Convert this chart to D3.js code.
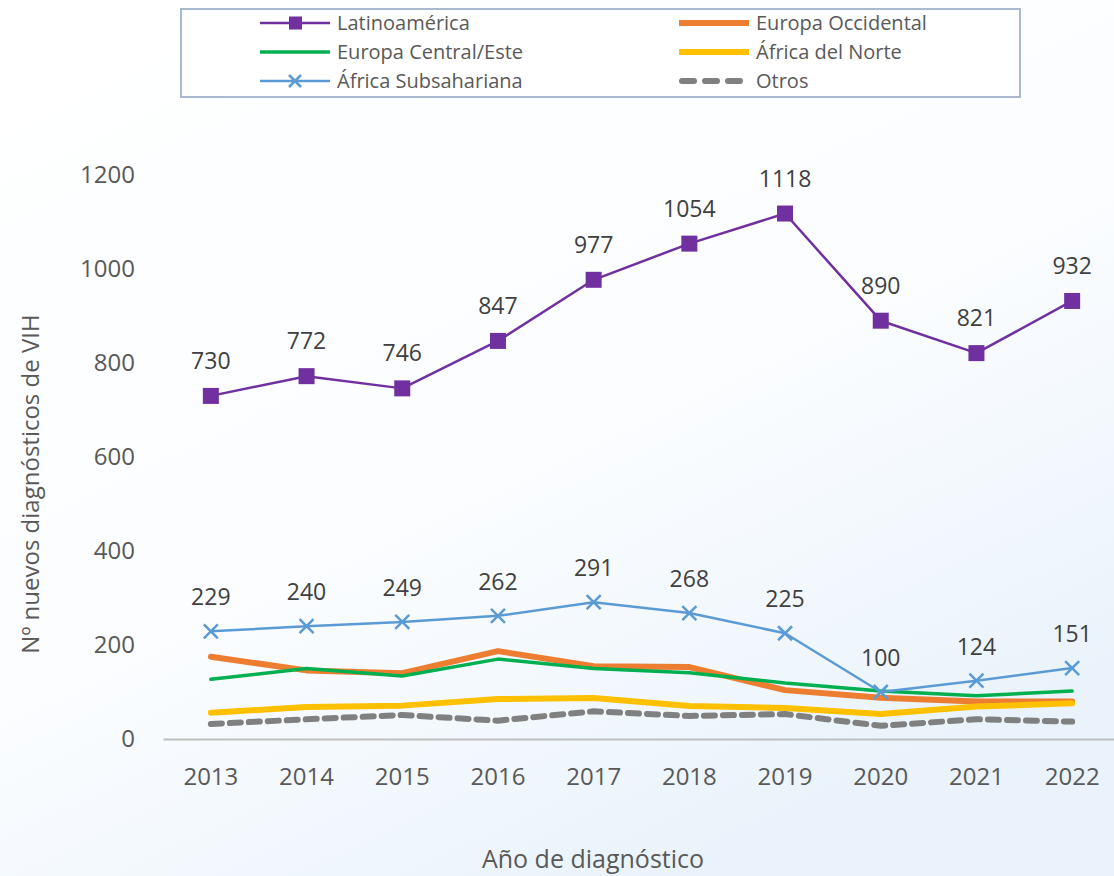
<!DOCTYPE html>
<html>
<head>
<meta charset="utf-8">
<script src="https://cdn.jsdelivr.net/npm/d3@7"></script>
<style>
  html, body { margin: 0; padding: 0; }
  body { width: 1114px; height: 876px; overflow: hidden; font-family: "Open Sans", sans-serif; }
</style>
</head>
<body>
<div id="chart"></div>
<script>
// Data
const years = ["2013", "2014", "2015", "2016", "2017", "2018", "2019", "2020", "2021", "2022"];
const latinoamerica = [730, 772, 746, 847, 977, 1054, 1118, 890, 821, 932];
const europaOccidental = [175, 146, 140, 187, 155, 153, 104, 88, 80, 80];
const europaCentral = [127, 150, 134, 170, 150, 141, 119, 102, 92, 102];
const africaNorte = [56, 68, 71, 85, 87, 70, 66, 53, 69, 76];
const africaSub = [229, 240, 249, 262, 291, 268, 225, 100, 124, 151];
const otros = [32, 42, 51, 39, 59, 49, 53, 28, 42, 37];
const yTicks = [0, 200, 400, 600, 800, 1000, 1200];

const series = [
    { name: "Europa Occidental", values: europaOccidental, color: "#ed7d31", width: 6 },
    { name: "Europa Central/Este", values: europaCentral, color: "#00b050", width: 3.5 },
    { name: "África del Norte", values: africaNorte, color: "#ffc000", width: 6 },
    { name: "África Subsahariana", values: africaSub, color: "#5b9bd5", width: 2.5, marker: "x", labels: true, labelOffset: 26 },
    { name: "Otros", values: otros, color: "#808080", width: 6, dash: "11,8" },
    { name: "Latinoamérica", values: latinoamerica, color: "#7030a0", width: 2.5, marker: "square", labels: true, labelOffset: 27 }
];

const width = 1114, height = 876;
const svg = d3.select("#chart").append("svg")
    .attr("width", width)
    .attr("height", height);

// Background gradient
const defs = svg.append("defs");
const grad = defs.append("linearGradient")
    .attr("id", "bg")
    .attr("x1", "0").attr("y1", "0")
    .attr("x2", "0.6").attr("y2", "1");
grad.append("stop").attr("offset", "0%").attr("stop-color", "#ffffff");
grad.append("stop").attr("offset", "60%").attr("stop-color", "#fbfdff");
grad.append("stop").attr("offset", "100%").attr("stop-color", "#eaf3fb");
svg.append("rect").attr("width", width).attr("height", height).attr("fill", "url(#bg)");

const x = d3.scaleBand()
    .domain(years)
    .range([163, 1120]);

const y = d3.scaleLinear()
    .domain([0, 1200])
    .range([739, 175]);

const cx = d => x(d) + x.bandwidth() / 2;

// Y axis tick labels (no axis line)
const yAxis = svg.append("g")
    .attr("transform", "translate(135,0)")
    .call(d3.axisLeft(y).tickValues(yTicks).tickFormat(d3.format("d")).tickSize(0).tickPadding(0));
yAxis.select(".domain").remove();
yAxis.selectAll("text")
    .attr("font-family", "Open Sans")
    .attr("font-size", 24)
    .attr("fill", "#595959");

// X axis
const xAxis = svg.append("g")
    .attr("transform", "translate(0,739)")
    .call(d3.axisBottom(x).tickSize(0).tickPadding(29));
xAxis.select(".domain")
    .attr("stroke", "#bfbfbf")
    .attr("stroke-width", 2);
xAxis.selectAll("text")
    .attr("font-family", "Open Sans")
    .attr("font-size", 24)
    .attr("fill", "#595959");

// Axis titles
svg.append("text")
    .attr("x", 593)
    .attr("y", 868)
    .attr("text-anchor", "middle")
    .attr("font-size", 25)
    .attr("fill", "#595959")
    .text("Año de diagnóstico");

svg.append("text")
    .attr("transform", "translate(39,484) rotate(-90)")
    .attr("text-anchor", "middle")
    .attr("font-size", 24)
    .attr("fill", "#595959")
    .text("Nº nuevos diagnósticos de VIH");

// Lines
const line = d3.line()
    .x((d, i) => cx(years[i]))
    .y(d => y(d));

series.forEach(s => {
    const g = svg.append("g");
    g.append("path")
        .datum(s.values)
        .attr("d", line)
        .attr("fill", "none")
        .attr("stroke", s.color)
        .attr("stroke-width", s.width)
        .attr("stroke-linejoin", "round")
        .attr("stroke-linecap", "round")
        .attr("stroke-dasharray", s.dash || null);

    if (s.marker === "square") {
        g.selectAll("rect")
            .data(s.values)
            .join("rect")
            .attr("x", (d, i) => cx(years[i]) - 8)
            .attr("y", d => y(d) - 8)
            .attr("width", 16)
            .attr("height", 16)
            .attr("fill", s.color);
    }
    if (s.marker === "x") {
        g.selectAll("path.mk")
            .data(s.values)
            .join("path")
            .attr("class", "mk")
            .attr("d", (d, i) => {
                const px = cx(years[i]), py = y(d), r = 7;
                return `M${px - r},${py - r}L${px + r},${py + r}M${px - r},${py + r}L${px + r},${py - r}`;
            })
            .attr("stroke", s.color)
            .attr("stroke-width", 2.5);
    }
    if (s.labels) {
        g.selectAll("text")
            .data(s.values)
            .join("text")
            .attr("x", (d, i) => cx(years[i]))
            .attr("y", d => y(d) - s.labelOffset)
            .attr("text-anchor", "middle")
            .attr("font-size", 23)
            .attr("fill", "#404040")
            .text(d => d);
    }
});

// Legend
const legend = svg.append("g");
legend.append("rect")
    .attr("x", 181).attr("y", 9)
    .attr("width", 839).attr("height", 88)
    .attr("fill", "#ffffff")
    .attr("stroke", "#a9b9cf")
    .attr("stroke-width", 2);

const legendItems = [
    { s: series[5], col: 0, row: 0 },
    { s: series[0], col: 1, row: 0 },
    { s: series[1], col: 0, row: 1 },
    { s: series[2], col: 1, row: 1 },
    { s: series[3], col: 0, row: 2 },
    { s: series[4], col: 1, row: 2 }
];
const colX = [260, 679];
const rowY = [23, 52, 81];

legendItems.forEach(item => {
    const s = item.s;
    const lx = colX[item.col], ly = rowY[item.row];
    const g = legend.append("g");
    g.append("line")
        .attr("x1", lx + (s.dash ? 3 : 0)).attr("x2", lx + (s.dash ? 68 : 70))
        .attr("y1", ly).attr("y2", ly)
        .attr("stroke", s.color)
        .attr("stroke-width", s.width)
        .attr("stroke-linecap", s.dash ? "round" : "butt")
        .attr("stroke-dasharray", s.dash ? "12,11" : null);
    if (s.marker === "square") {
        g.append("rect")
            .attr("x", lx + 29).attr("y", ly - 6.5)
            .attr("width", 13).attr("height", 13)
            .attr("fill", s.color);
    }
    if (s.marker === "x") {
        const px = lx + 35, r = 6;
        g.append("path")
            .attr("d", `M${px - r},${ly - r}L${px + r},${ly + r}M${px - r},${ly + r}L${px + r},${ly - r}`)
            .attr("stroke", s.color)
            .attr("stroke-width", 2.5);
    }
    g.append("text")
        .attr("x", lx + 77)
        .attr("y", ly)
        .attr("dy", "0.35em")
        .attr("font-size", 20)
        .attr("fill", "#595959")
        .text(s.name);
});
</script>
</body>
</html>
